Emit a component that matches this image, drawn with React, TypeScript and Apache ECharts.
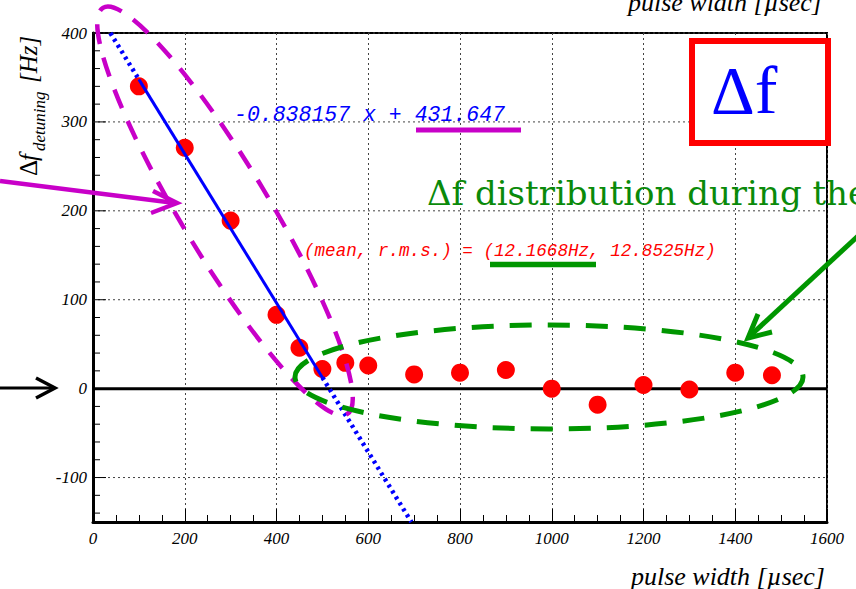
import React, { useEffect, useRef } from "react";
import * as echarts from "echarts";

// ---- data ----
const PULSE_WIDTH = [100, 200, 300, 400, 450, 500, 550, 600, 700, 800, 900, 1000, 1100, 1200, 1300, 1400, 1480];
const DETUNING = [340, 271, 189, 83, 46, 22, 29, 26, 16, 18, 21, 0, -18, 4, -1, 18, 15];

// fit line "-0.838157 x + 431.647": solid over fitted range, dotted extrapolation
const FIT_DOTTED_UPPER = [[37.8, 400], [100, 347.8]];
const FIT_SOLID = [[100, 347.8], [500, 12.6]];
const FIT_DOTTED_LOWER = [[500, 12.6], [694, -150]];

const X_MIN = 0;
const X_MAX = 1600;
const Y_MIN = -150;
const Y_MAX = 400;
const Y_MAJOR_TICKS = [-100, 100, 200, 300, 400];
const Y_ZERO_TICK = [0];
const Y_MINOR_TICKS = [-140, -120, -80, -60, -40, -20, 20, 40, 60, 80, 120, 140, 160, 180, 220, 240, 260, 280, 320, 340, 360, 380];

const FIT_TEXT = "-0.838157 x + 431.647";
const MEAN_TEXT = "(mean, r.m.s.) = (12.1668Hz, 12.8525Hz)";
const X_TITLE = "pulse width [\u00b5sec]";
const NOTE_TEXT = "\u0394f distribution during the";

const SERIF = '"Liberation Serif", serif';
const MONO = '"Liberation Mono", monospace';

export default function App() {
  const ref = useRef<HTMLDivElement>(null);

  useEffect(() => {
    if (!ref.current) return;
    const chart = echarts.init(ref.current, undefined, { renderer: "svg" });

    const tickData = [
      ...Y_MINOR_TICKS.map((v) => [0, v, 0]),
      ...Y_MAJOR_TICKS.map((v) => [0, v, 1]),
      ...Y_ZERO_TICK.map((v) => [0, v, 2]),
    ];

    const magenta = "#c800c8";
    const green = "#009600";

    const option: any = {
      animation: false,
      backgroundColor: "#ffffff",
      grid: {
        left: 93,
        right: 29,
        top: 33,
        bottom: 67,
        show: true,
        borderColor: "#000",
        borderWidth: 2,
        backgroundColor: "transparent",
      },
      xAxis: {
        type: "value",
        min: X_MIN,
        max: X_MAX,
        interval: 200,
        axisLine: { show: true, onZero: false, lineStyle: { color: "#000", width: 3 } },
        axisTick: { show: true, inside: true, length: 13, lineStyle: { color: "#000", width: 1 } },
        minorTick: { show: true, splitNumber: 4, length: 7, lineStyle: { color: "#000", width: 1 } },
        splitLine: { show: true, lineStyle: { color: "#444", width: 1, type: [2, 3] } },
        axisLabel: {
          color: "#000",
          fontFamily: "Liberation Serif",
          fontStyle: "italic",
          fontSize: 17,
          margin: 8,
          formatter: (v: number) => String(v),
        },
      },
      yAxis: {
        type: "value",
        min: Y_MIN,
        max: Y_MAX,
        interval: 50,
        axisLine: { show: true, onZero: false, lineStyle: { color: "#000", width: 3 } },
        axisTick: { show: false },
        splitLine: { show: false },
        axisLabel: {
          color: "#000",
          fontFamily: "Liberation Serif",
          fontStyle: "italic",
          fontSize: 17,
          margin: 6,
          formatter: (v: number) => (v % 100 === 0 ? String(v) : ""),
        },
      },
      series: [
        {
          type: "custom",
          z: 1,
          silent: true,
          data: tickData,
          renderItem: (params: any, api: any) => {
            const v = api.value(1);
            const kind = api.value(2);
            const p0 = api.coord([X_MIN, v]);
            const p1 = api.coord([X_MAX, v]);
            const children: any[] = [];
            if (kind === 1) {
              children.push({
                type: "line",
                shape: { x1: p0[0], y1: p0[1], x2: p1[0], y2: p1[1] },
                style: { stroke: "#444", lineWidth: 1, lineDash: [2, 3] },
              });
            }
            if (kind === 2) {
              children.push({
                type: "line",
                shape: { x1: p0[0], y1: p0[1], x2: p1[0], y2: p1[1] },
                style: { stroke: "#000", lineWidth: 3 },
              });
            }
            const len = kind === 0 ? 7 : 13;
            children.push({
              type: "line",
              shape: { x1: p0[0], y1: p0[1], x2: p0[0] + len, y2: p0[1] },
              style: { stroke: "#000", lineWidth: 1 },
            });
            return { type: "group", children };
          },
        },
        {
          type: "scatter",
          z: 3,
          symbol: "circle",
          symbolSize: 18,
          itemStyle: { color: "#ff0000", opacity: 1 },
          data: PULSE_WIDTH.map((x, i) => [x, DETUNING[i]]),
        },
        {
          type: "line",
          z: 4,
          symbol: "none",
          lineStyle: { color: "#0000ff", width: 4.5, type: [3, 4] },
          data: FIT_DOTTED_UPPER,
        },
        {
          type: "line",
          z: 4,
          symbol: "none",
          lineStyle: { color: "#0000ff", width: 3, type: "solid" },
          data: FIT_SOLID,
        },
        {
          type: "line",
          z: 4,
          symbol: "none",
          lineStyle: { color: "#0000ff", width: 4.5, type: [3, 4] },
          data: FIT_DOTTED_LOWER,
        },
      ],
      graphic: [
        // axis titles
        {
          type: "text",
          z: 50,
          style: {
            text: X_TITLE,
            x: 825,
            y: 576,
            textAlign: "right",
            textVerticalAlign: "middle",
            font: `italic 26px ${SERIF}`,
            fill: "#000",
          },
        },
        {
          type: "text",
          z: 50,
          style: {
            text: X_TITLE,
            x: 822,
            y: 2,
            textAlign: "right",
            textVerticalAlign: "middle",
            font: `italic 26px ${SERIF}`,
            fill: "#000",
          },
        },
        {
          type: "group",
          x: 28,
          y: 176,
          rotation: Math.PI / 2,
          z: 50,
          children: [
            {
              type: "text",
              style: { text: "\u0394", x: 0, y: 0, textAlign: "left", textVerticalAlign: "middle", font: `25px ${SERIF}`, fill: "#000" },
            },
            {
              type: "text",
              style: { text: "f", x: 15, y: 0, textAlign: "left", textVerticalAlign: "middle", font: `italic 25px ${SERIF}`, fill: "#000" },
            },
            {
              type: "text",
              style: { text: "detuning", x: 25, y: 11, textAlign: "left", textVerticalAlign: "middle", font: `italic 17px ${SERIF}`, fill: "#000" },
            },
            {
              type: "text",
              style: { text: "[Hz]", x: 93, y: 0, textAlign: "left", textVerticalAlign: "middle", font: `italic 25px ${SERIF}`, fill: "#000" },
            },
          ],
        },
        // fit formula
        {
          type: "text",
          z: 60,
          style: {
            text: FIT_TEXT,
            x: 234,
            y: 115,
            textAlign: "left",
            textVerticalAlign: "middle",
            font: `italic 21.5px ${MONO}`,
            fill: "#0000ff",
          },
        },
        {
          type: "line",
          z: 60,
          shape: { x1: 416, y1: 130, x2: 521, y2: 130 },
          style: { stroke: magenta, lineWidth: 5 },
        },
        // mean / rms text
        {
          type: "text",
          z: 60,
          style: {
            text: MEAN_TEXT,
            x: 304,
            y: 251,
            textAlign: "left",
            textVerticalAlign: "middle",
            font: `italic 17.6px ${MONO}`,
            fill: "#ff0000",
          },
        },
        {
          type: "line",
          z: 60,
          shape: { x1: 490, y1: 264.5, x2: 596, y2: 264.5 },
          style: { stroke: green, lineWidth: 5.5 },
        },
        // green note
        {
          type: "text",
          z: 60,
          style: {
            text: NOTE_TEXT,
            x: 427,
            y: 193,
            textAlign: "left",
            textVerticalAlign: "middle",
            font: `34px "DejaVu Serif", serif`,
            fill: "#0a8a0a",
          },
        },
        // delta-f box
        {
          type: "rect",
          z: 70,
          shape: { x: 692, y: 41, width: 136, height: 102 },
          style: { fill: "#ffffff", stroke: "#ff0000", lineWidth: 6 },
        },
        {
          type: "text",
          z: 71,
          style: {
            text: "\u0394f",
            x: 711,
            y: 90,
            textAlign: "left",
            textVerticalAlign: "middle",
            font: `68px ${SERIF}`,
            fill: "#0000ff",
          },
        },
        // magenta dashed ellipse
        {
          type: "ellipse",
          z: 80,
          x: 225,
          y: 211,
          rotation: (-59 * Math.PI) / 180,
          shape: { cx: 0, cy: 0, rx: 237, ry: 44 },
          style: { fill: "transparent", stroke: magenta, lineWidth: 4.5, lineDash: [20, 14] },
        },
        // green dashed ellipse
        {
          type: "ellipse",
          z: 80,
          x: 549,
          y: 377,
          shape: { cx: 0, cy: 0, rx: 254, ry: 52 },
          style: { fill: "transparent", stroke: green, lineWidth: 5, lineDash: [22, 16] },
        },
        // arrows
        {
          type: "line",
          z: 90,
          shape: { x1: 0, y1: 181, x2: 175, y2: 203 },
          style: { stroke: magenta, lineWidth: 4.5 },
        },
        {
          type: "polyline",
          z: 90,
          shape: { points: [[153, 191], [177, 203], [151, 213]] },
          style: { fill: "none", stroke: magenta, lineWidth: 4.5 },
        },
        {
          type: "line",
          z: 90,
          shape: { x1: 0, y1: 388, x2: 54, y2: 388 },
          style: { stroke: "#000", lineWidth: 3 },
        },
        {
          type: "polyline",
          z: 90,
          shape: { points: [[36, 378], [55, 388], [36, 398]] },
          style: { fill: "none", stroke: "#000", lineWidth: 3.5 },
        },
        {
          type: "line",
          z: 90,
          shape: { x1: 858, y1: 236, x2: 751, y2: 335 },
          style: { stroke: green, lineWidth: 5 },
        },
        {
          type: "polyline",
          z: 90,
          shape: { points: [[758, 314], [748, 338], [772, 332]] },
          style: { fill: "none", stroke: green, lineWidth: 5 },
        },
      ],
    };

    chart.setOption(option);
    return () => chart.dispose();
  }, []);

  return (
    <div
      ref={ref}
      style={{ position: "fixed", left: 0, top: 0, width: 856, height: 589, background: "#fff" }}
    />
  );
}
